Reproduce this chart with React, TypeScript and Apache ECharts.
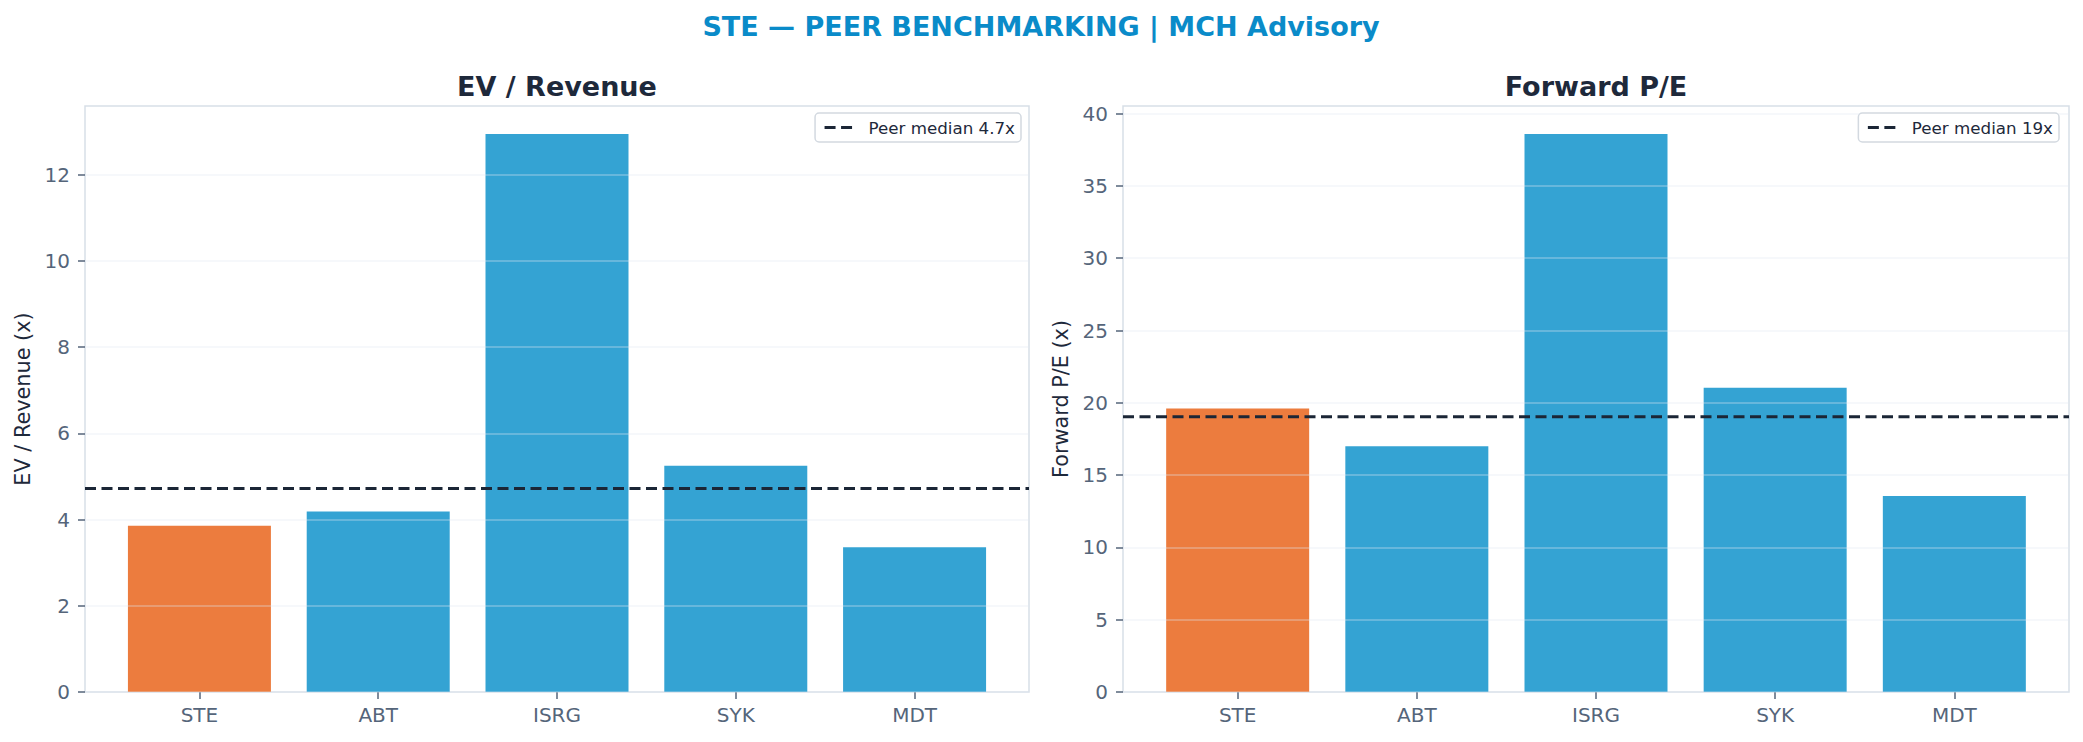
import React, { useEffect, useRef } from 'react';
import * as echarts from 'echarts';

const categories = ['STE', 'ABT', 'ISRG', 'SYK', 'MDT'];
const evRevenue = [3.86, 4.19, 12.95, 5.25, 3.36];
const forwardPE = [19.6, 17.0, 38.6, 21.05, 13.55];
const medianValues = [4.72, 19.03];
const medianLabels = ['Peer median 4.7x', 'Peer median 19x'];
const evTicks = [0, 2, 4, 6, 8, 10, 12];
const peTicks = [0, 5, 10, 15, 20, 25, 30, 35, 40];
const panelTitles = ['EV / Revenue', 'Forward P/E'];
const yNames = ['EV / Revenue (x)', 'Forward P/E (x)'];
const highlight = 'STE';

const FONT = 'DejaVu Sans';
const BLUE = '#34A3D3';
const ORANGE = '#EC7C3E';
const DARK = '#1E293B';
const LINE = '#1B2636';
const TICK = '#55657A';
const SPINE = '#D8DFE7';

const X_MIN = -0.64;
const X_MAX = 4.64;

function buildOption() {
  const panels = [
    { values: evRevenue, ticks: evTicks, left: 85, width: 944 },
    { values: forwardPE, ticks: peTicks, left: 1123, width: 946 },
  ];
  const grids: any[] = [];
  const xAxes: any[] = [];
  const yAxes: any[] = [];
  const series: any[] = [];
  const legends: any[] = [];
  const graphics: any[] = [
    {
      type: 'text',
      x: 1041,
      y: 26,
      style: {
        text: 'STE — PEER BENCHMARKING | MCH Advisory',
        fill: '#0A8BC9',
        font: `bold 27px "${FONT}"`,
        align: 'center',
        verticalAlign: 'middle',
      },
    },
  ];

  panels.forEach((p, i) => {
    const maxVal = Math.max(...p.values) * 1.05;
    grids.push({
      left: p.left,
      top: 106,
      width: p.width,
      height: 586,
      show: true,
      borderColor: SPINE,
      borderWidth: 1.5,
      backgroundColor: 'transparent',
      containLabel: false,
    });
    xAxes.push({
      type: 'value',
      gridIndex: i,
      min: X_MIN,
      max: X_MAX,
      axisLine: { show: false, onZero: false },
      splitLine: { show: false },
      axisTick: {
        show: true,
        length: 7,
        lineStyle: { color: TICK, width: 1.5 },
        customValues: [0, 1, 2, 3, 4],
      },
      axisLabel: {
        customValues: [0, 1, 2, 3, 4],
        formatter: (v: number) => categories[Math.round(v)] ?? '',
        color: TICK,
        fontFamily: FONT,
        fontSize: 20,
        margin: 13,
      },
    });
    yAxes.push({
      type: 'value',
      gridIndex: i,
      min: 0,
      max: maxVal,
      z: 3,
      name: yNames[i],
      nameLocation: 'middle',
      nameGap: 52,
      nameTextStyle: { color: DARK, fontFamily: FONT, fontSize: 20.8 },
      axisLine: { show: false, onZero: false },
      splitLine: { show: true, lineStyle: { color: 'rgba(226,232,240,0.4)', width: 1.5 } },
      axisTick: {
        show: true,
        length: 7,
        lineStyle: { color: TICK, width: 1.5 },
        customValues: p.ticks,
      },
      axisLabel: {
        customValues: p.ticks,
        color: TICK,
        fontFamily: FONT,
        fontSize: 20,
        margin: 15,
      },
    });
    series.push({
      type: 'bar',
      xAxisIndex: i,
      yAxisIndex: i,
      barWidth: 143,
      z: 2,
      data: p.values.map((v, k) => ({
        value: [k, v],
        itemStyle: { color: categories[k] === highlight ? ORANGE : BLUE },
      })),
    });
    series.push({
      type: 'line',
      name: medianLabels[i],
      xAxisIndex: i,
      yAxisIndex: i,
      symbol: 'none',
      showSymbol: false,
      z: 5,
      color: LINE,
      itemStyle: { color: LINE },
      lineStyle: { color: LINE, width: 3, type: [11, 5.5] },
      data: [
        [X_MIN, medianValues[i]],
        [X_MAX, medianValues[i]],
      ],
    });
    legends.push({
      data: [medianLabels[i]],
      right: i === 0 ? 2083 - 1021 : 2083 - 2059,
      top: 113,
      orient: 'horizontal',
      backgroundColor: '#FFFFFF',
      borderColor: '#D3D9E0',
      borderWidth: 1.5,
      borderRadius: 4,
      padding: [6, 6, 6, 8],
      itemWidth: 28,
      itemHeight: 14,
      itemGap: 10,
      selectedMode: false,
      itemStyle: { opacity: 0 },
      lineStyle: { color: LINE, width: 3, type: [11, 5.5] },
      textStyle: { color: DARK, fontFamily: FONT, fontSize: 16.7, padding: [0, 0, 0, 11] },
    });
    graphics.push({
      type: 'text',
      x: p.left + p.width / 2,
      y: 86,
      style: {
        text: panelTitles[i],
        fill: DARK,
        font: `bold 27px "${FONT}"`,
        align: 'center',
        verticalAlign: 'middle',
      },
    });
  });

  return {
    animation: false,
    backgroundColor: '#FFFFFF',
    textStyle: { fontFamily: FONT },
    grid: grids,
    xAxis: xAxes,
    yAxis: yAxes,
    legend: legends,
    series,
    graphic: graphics,
  };
}

export default function App() {
  const ref = useRef<HTMLDivElement>(null);
  useEffect(() => {
    if (!ref.current) return;
    const chart = echarts.init(ref.current, null, { renderer: 'svg' });
    chart.setOption(buildOption() as any);
    return () => {
      chart.dispose();
    };
  }, []);
  return (
    <div
      ref={ref}
      style={{ position: 'absolute', left: 0, top: 0, width: 2083, height: 742, background: '#fff' }}
    />
  );
}
